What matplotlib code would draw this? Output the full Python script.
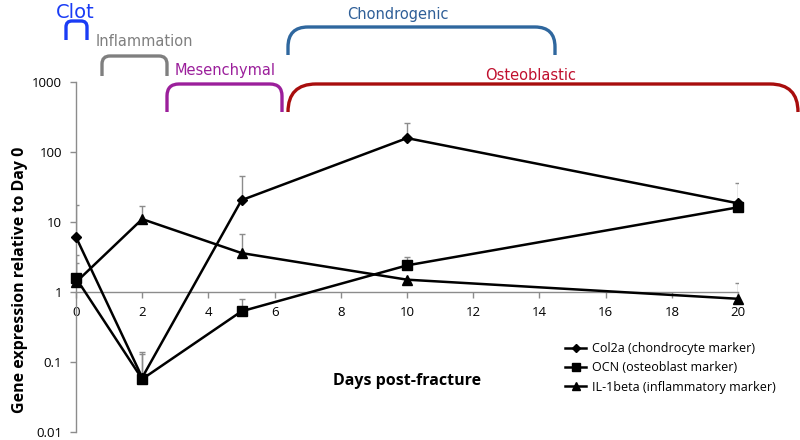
import matplotlib
matplotlib.use("Agg")
import matplotlib.pyplot as plt
import numpy as np
from matplotlib.path import Path
from matplotlib.patches import PathPatch

# ---- data ----
days = [0, 2, 5, 10, 20]
col2a = [6.1, 0.06, 20.5, 158, 18.5]
col2a_up = [17.5, 0.14, 45, 258, 36]
ocn = [1.58, 0.057, 0.53, 2.4, 16.2]
ocn_up = [3.4, 0.13, 0.8, 3.2, 16.2]
il1b = [1.38, 11.0, 3.6, 1.5, 0.8]
il1b_up = [2.6, 16.9, 6.7, 1.5, 1.33]
series_names = ["Col2a (chondrocyte marker)", "OCN (osteoblast marker)",
                "IL-1beta (inflammatory marker)"]
x_ticks = list(range(0, 21, 2))
y_ticks = [0.01, 0.1, 1, 10, 100, 1000]
y_tick_labels = ["0.01", "0.1", "1", "10", "100", "1000"]

phase_names = ["Clot", "Inflammation", "Mesenchymal", "Chondrogenic", "Osteoblastic"]

W, H = 800, 440
fig = plt.figure(figsize=(8, 4.4), dpi=100)
ax = fig.add_axes([76 / W, 1 - 432 / H, (738 - 76) / W, (432 - 82) / H])
ax.set_yscale("log")
ax.set_xlim(0, 20)
ax.set_ylim(0.01, 1000)

axis_font = "Open Sans"
gray = "#8c8c8c"

markers = ["D", "s", "^"]
msizes = [5.5, 7.5, 7.5]
data = [(col2a, col2a_up), (ocn, ocn_up), (il1b, il1b_up)]
handles = []
for (vals, ups), m, ms, name in zip(data, markers, msizes, series_names):
    vals = np.array(vals)
    ups = np.array(ups)
    err = np.vstack([np.zeros_like(vals), np.maximum(ups - vals, 0)])
    ax.errorbar(days, vals, yerr=err, fmt="none", ecolor=gray, elinewidth=1,
                capsize=2.5, capthick=1, zorder=2)
    h, = ax.plot(days, vals, color="black", lw=1.8, marker=m, ms=ms,
                 markerfacecolor="black", markeredgecolor="black", label=name,
                 zorder=3, clip_on=False)
    handles.append(h)

for s in ["top", "right"]:
    ax.spines[s].set_visible(False)
ax.spines["left"].set_color(gray)
ax.spines["bottom"].set_color(gray)
ax.spines["bottom"].set_position(("data", 1))
ax.spines["left"].set_linewidth(1)
ax.spines["bottom"].set_linewidth(1)

ax.set_yticks(y_ticks)
ax.set_yticklabels(y_tick_labels, fontfamily=axis_font, fontsize=9.5)
ax.yaxis.set_minor_locator(matplotlib.ticker.NullLocator())
ax.set_xticks(x_ticks)
ax.set_xticklabels([str(t) for t in x_ticks], fontfamily=axis_font, fontsize=9.5)
ax.tick_params(axis="both", colors=gray, labelcolor="black", length=4, width=1)
ax.tick_params(axis="x", pad=6)
ax.tick_params(axis="y", pad=6)

fig.text(20 / W, 1 - 280 / H, "Gene expression relative to Day 0", rotation=90,
         ha="center", va="center", fontfamily=axis_font, fontweight="bold", fontsize=11.5)
fig.text(407 / W, 1 - 381 / H, "Days post-fracture", ha="center", va="center",
         fontfamily=axis_font, fontweight="bold", fontsize=11.5)

fig.legend(handles=handles, loc="upper left", bbox_to_anchor=(560 / W, 1 - 337 / H),
           frameon=False, prop={"family": axis_font, "size": 9}, handlelength=1.7,
           handletextpad=0.45, labelspacing=0.5, borderaxespad=0, markerscale=0.75)


def px(x, y):
    return (x / W, 1 - y / H)


def bracket(x0, x1, ytop, ybot, r, color):
    verts = [px(x0, ybot), px(x0, ytop + r), px(x0, ytop), px(x0 + r, ytop),
             px(x1 - r, ytop), px(x1, ytop), px(x1, ytop + r), px(x1, ybot)]
    codes = [Path.MOVETO, Path.LINETO, Path.CURVE3, Path.CURVE3,
             Path.LINETO, Path.CURVE3, Path.CURVE3, Path.LINETO]
    fig.add_artist(PathPatch(Path(verts, codes), transform=fig.transFigure,
                             fill=False, edgecolor=color, lw=2.4, capstyle="butt"))


phase_font = "DejaVu Sans"
# Clot
bracket(66, 87, 21, 40, 6, "#1a3cf5")
fig.text(*px(75, 12), phase_names[0], ha="center", va="center", color="#1a3cf5",
         fontfamily=phase_font, fontsize=14)
# Inflammation
bracket(102, 167, 56, 76, 8, "#7f7f7f")
fig.text(*px(144, 42), phase_names[1], ha="center", va="center", color="#7f7f7f",
         fontfamily=phase_font, fontsize=10.5)
# Mesenchymal
bracket(167, 282, 84, 112, 12, "#9b1f9b")
fig.text(*px(225, 71), phase_names[2], ha="center", va="center", color="#9b1f9b",
         fontfamily=phase_font, fontsize=10.5)
# Chondrogenic
bracket(288, 555, 27, 55, 20, "#2f679e")
fig.text(*px(398, 14), phase_names[3], ha="center", va="center", color="#2f5f98",
         fontfamily=phase_font, fontsize=10.5)
# Osteoblastic
bracket(288, 798, 84, 112, 28, "#a80d0d")
fig.text(*px(531, 75), phase_names[4], ha="center", va="center", color="#c0102e",
         fontfamily=phase_font, fontsize=10.5)

fig.savefig("out.png", dpi=100)
